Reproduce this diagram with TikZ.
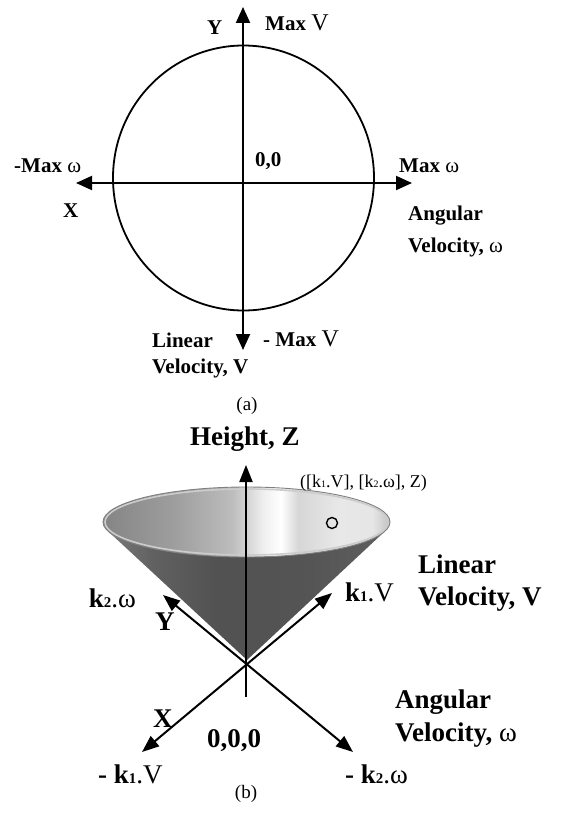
\documentclass[tikz,border=0pt]{standalone}
\usepackage{fontspec}
\setmainfont{Liberation Serif}
\usetikzlibrary{arrows.meta}
\pgfdeclarehorizontalshading{coneinner}{100bp}{color(0bp)=(black!48); color(25bp)=(black!48); color(37.5bp)=(black!38); color(47.5bp)=(black!26); color(53bp)=(black!6); color(56bp)=(white); color(59bp)=(black!16); color(66bp)=(black!9); color(72bp)=(black!10); color(75bp)=(black!24); color(100bp)=(black!24)}
\pgfdeclarehorizontalshading{conebody}{100bp}{color(0bp)=(black!52); color(25bp)=(black!52); color(33bp)=(black!62); color(45bp)=(black!68); color(60bp)=(black!67); color(75bp)=(black!63); color(100bp)=(black!63)}
\newcommand{\fA}{\fontsize{21}{21}\selectfont\bfseries}
\newcommand{\fB}{\fontsize{27}{27}\selectfont\bfseries}
\newcommand{\fBV}{\fontsize{24}{24}\selectfont\mdseries}
\newcommand{\fCap}{\fontsize{19}{19}\selectfont\mdseries}
\newcommand{\fSm}{\fontsize{18}{18}\selectfont\mdseries}
\newcommand{\ksub}[1]{\scalebox{0.55}{#1}}
\newcommand{\kbold}[1]{{\bfseries k\ksub{#1}}}
\tikzset{
  lab/.style={inner sep=0pt, anchor=base west},
  axisln/.style={line width=2pt, black},
  tipA/.style={-{Triangle[length=16pt,width=14pt]}},
  tipAA/.style={{Triangle[length=16pt,width=14pt]}-{Triangle[length=16pt,width=14pt]}},
  tipB/.style={-{Triangle[length=17pt,width=13pt]}},
  tipBB/.style={{Triangle[length=17pt,width=13pt]}-{Triangle[length=17pt,width=13pt]}},
}
\begin{document}
\begin{tikzpicture}[x=1pt,y=-1pt]
\useasboundingbox (0,0) rectangle (566,816);
% ---------------- (a)
\coordinate (aC) at (243.5,178);
\coordinate (aT) at (243,7);
\coordinate (aB) at (243,350);
\coordinate (aL) at (76,183);
\coordinate (aR) at (412,183);
\draw[line width=1.8pt] (aC) ellipse [x radius=130.5pt, y radius=132.5pt];
\draw[axisln,tipAA] (aB) -- (aT);
\draw[axisln,tipAA] (aL) -- (aR);
\node[lab,font=\fA] (aY) at (207,35) {Y};
\node[lab,font=\fA] (aMaxV) at (265,31) {Max {\fBV V}};
\node[lab,font=\fA] (a00) at (255,166) {0,0};
\node[lab,font=\fA] (aMinW) at (14,172) {-Max {\mdseries ω}};
\node[lab,font=\fA] (aMaxW) at (399,172) {Max {\mdseries ω}};
\node[lab,font=\fA] (aX) at (63,217) {X};
\node[lab,font=\fA] (aAng1) at (408,220) {Angular};
\node[lab,font=\fA] (aAng2) at (408,252) {Velocity, {\mdseries ω}};
\node[lab,font=\fA] (aLin1) at (152,347) {Linear};
\node[lab,font=\fA] (aLin2) at (152,373) {Velocity, V};
\node[lab,font=\fA] (aMinV) at (263,346) {- Max {\fBV V}};
\node[inner sep=0pt,anchor=base,font=\fCap] (aCap) at (247,410) {(a)};
% ---------------- (b)
\coordinate (bApex) at (247,660);
\coordinate (bTL) at (107.7,530.9);
\coordinate (bTR) at (385.3,530.9);
\coordinate (bRim) at (246.5,522);
\shade[shading=conebody] (bTL) -- (bApex) -- (bTR) -- cycle;
\shade[shading=coneinner] (bRim) ellipse [x radius=143.5pt, y radius=35pt];
\draw[black!20, line width=1.6pt] (bRim) ellipse [x radius=141.5pt, y radius=33pt];
\draw[black!50, line width=0.9pt] (bRim) ellipse [x radius=143.5pt, y radius=35pt];
\node[circle, draw, line width=1.4pt, minimum size=11pt, inner sep=0pt] (bPt) at (332,523) {};
\coordinate (bZt) at (246,465);
\coordinate (bZb) at (246,697);
\coordinate (bUL) at (163,595);
\coordinate (bLR) at (353,752);
\coordinate (bUR) at (332,593);
\coordinate (bLL) at (142,752);
\draw[axisln,tipB] (bZb) -- (bZt);
\draw[axisln,tipBB] (bUL) -- (bLR);
\draw[axisln,tipBB] (bLL) -- (bUR);
\node[lab,font=\fB] (bH) at (190,445) {Height, Z};
\node[lab,font=\fSm] (bCoord) at (300,487) {([k\ksub{1}.V], [k\ksub{2}.ω], Z)};
\node[lab,font=\fB] (bLin1) at (418,573) {Linear};
\node[lab,font=\fB] (bLin2) at (418,605) {Velocity, V};
\node[lab,font=\fB] (bK1V) at (345,601) {\kbold{1}{\mdseries .V}};
\node[inner sep=0pt,anchor=base east,font=\fB] (bK2W) at (136,607) {\kbold{2}{\mdseries .ω}};
\node[lab,font=\fB] (bY) at (155,630) {Y};
\node[lab,font=\fB] (bX) at (153,727) {X};
\node[lab,font=\fB] (b000) at (207,747) {0,0,0};
\node[lab,font=\fB] (bAng1) at (395,708) {Angular};
\node[lab,font=\fB] (bAng2) at (395,741) {Velocity, {\mdseries ω}};
\node[lab,font=\fB] (bMK1) at (98,783) {- \kbold{1}{\mdseries .V}};
\node[lab,font=\fB] (bMK2) at (345,783) {- \kbold{2}{\mdseries .ω}};
\node[inner sep=0pt,anchor=base,font=\fCap] (bCap) at (246,798) {(b)};
\end{tikzpicture}
\end{document}
